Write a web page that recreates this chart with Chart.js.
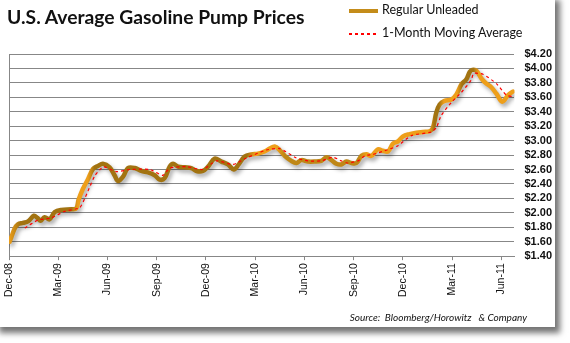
<!DOCTYPE html>
<html>
<head>
<meta charset="utf-8">
<script src="https://cdn.jsdelivr.net/npm/chart.js@4.4.1/dist/chart.umd.min.js"></script>
<style>
  html, body { margin: 0; padding: 0; background: #fff; }
  body { width: 570px; height: 343px; position: relative; overflow: hidden; }
  #panel { position: absolute; left: -6px; top: -6px; width: 561px; height: 333px; background: #fff;
           box-shadow: 5px 6px 6px rgba(0,0,0,0.55); }
  #chart { position: absolute; left: 0; top: 0; }
  .txt { position: absolute; white-space: pre; color: #111; }
  #title { left: 7px; top: 5px; font: bold 19.3px Lato, sans-serif; }
  .leg { left: 382px; font: 12.5px Lato, sans-serif; line-height: 14px; }
  .swatch { position: absolute; left: 349px; width: 29px; }
  #source { right: 43px; top: 311px; font: italic 10px Lato, sans-serif; line-height: 12px; }
</style>
</head>
<body>
<div id="panel"></div>
<canvas id="chart" width="570" height="343"></canvas>
<div class="txt" id="title">U.S. Average Gasoline Pump Prices</div>
<div class="swatch" style="top:9px;height:4px;background:#C48C1A;"></div>
<div class="txt leg" style="top:3px;">Regular Unleaded</div>
<div class="swatch" style="top:33px;height:1.5px;background:repeating-linear-gradient(to right,#ff0000 0 3px,transparent 3px 6px);"></div>
<div class="txt leg" style="top:26px;">1-Month Moving Average</div>
<div class="txt" id="source">Source:  Bloomberg/Horowitz   &amp; Company</div>
<script>
// x values are months since Dec-08
const xTickLabels = ['Dec-08', 'Mar-09', 'Jun-09', 'Sep-09', 'Dec-09', 'Mar-10', 'Jun-10', 'Sep-10', 'Dec-10', 'Mar-11', 'Jun-11'];

const regMonths = [0.04, 0.14, 0.34, 0.54, 0.85, 1.16, 1.52, 1.73, 1.93, 2.17, 2.47, 2.79, 3.19, 3.80, 4.10, 4.24,
  4.50, 4.82, 5.12, 5.42, 5.72, 6.13, 6.43, 6.64, 6.95, 7.25, 7.66, 8.06, 8.47, 8.88, 9.18, 9.48, 9.79, 10.0,
  10.30, 10.71, 11.11, 11.42, 11.82, 12.13, 12.53, 12.94, 13.34, 13.70, 13.96, 14.36, 14.77, 15.17, 15.57, 15.89,
  16.19, 16.49, 16.80, 17.20, 17.51, 17.82, 18.22, 18.62, 19.03, 19.34, 19.65, 19.95, 20.25, 20.56, 20.86, 21.17,
  21.48, 21.78, 22.08, 22.48, 22.78, 23.10, 23.40, 23.70, 24.01, 24.41, 24.83, 25.23, 25.63, 25.83, 26.04, 26.24,
  26.54, 26.96, 27.26, 27.57, 27.87, 28.07, 28.23, 28.48, 28.79, 29.09, 29.39, 29.70, 30.06, 30.41, 30.71];
const regPrices = [1.60, 1.66, 1.78, 1.84, 1.86, 1.88, 1.96, 1.93, 1.89, 1.94, 1.91, 2.01, 2.04, 2.05, 2.06, 2.18,
  2.33, 2.47, 2.61, 2.65, 2.68, 2.63, 2.52, 2.44, 2.50, 2.62, 2.62, 2.58, 2.56, 2.52, 2.46, 2.48, 2.64, 2.68,
  2.64, 2.63, 2.62, 2.58, 2.58, 2.64, 2.75, 2.71, 2.67, 2.60, 2.66, 2.78, 2.81, 2.82, 2.85, 2.89,
  2.92, 2.87, 2.79, 2.72, 2.69, 2.73, 2.71, 2.71, 2.72, 2.77, 2.73, 2.68, 2.67, 2.71, 2.69, 2.69,
  2.79, 2.81, 2.79, 2.88, 2.86, 2.85, 2.96, 2.99, 3.06, 3.09, 3.11, 3.12, 3.13, 3.18, 3.39, 3.50,
  3.55, 3.57, 3.64, 3.78, 3.85, 3.95, 3.98, 3.97, 3.86, 3.79, 3.74, 3.65, 3.54, 3.63, 3.68];

const maMonths = [0.96, 1.77, 2.58, 3.39, 4.30, 4.62, 5.22, 5.63, 5.77, 6.55, 7.35, 8.57, 9.38, 9.79, 10.81, 11.80,
  12.64, 13.65, 14.47, 15.69, 16.49, 17.51, 18.22, 19.03, 19.74, 20.25, 20.65, 21.27, 21.68, 22.18, 22.90, 23.70,
  24.52, 25.74, 26.04, 26.34, 26.96, 27.57, 28.17, 28.31, 28.88, 29.70, 30.30, 30.71];
const maPrices = [1.79, 1.90, 1.93, 2.02, 2.07, 2.20, 2.51, 2.62, 2.64, 2.57, 2.60, 2.60, 2.52, 2.62, 2.64, 2.60,
  2.72, 2.67, 2.76, 2.87, 2.89, 2.76, 2.72, 2.72, 2.77, 2.72, 2.69, 2.72, 2.79, 2.81, 2.86, 2.93,
  3.07, 3.12, 3.18, 3.35, 3.53, 3.67, 3.84, 3.93, 3.92, 3.79, 3.63, 3.61];

const ORANGE = '#EE9F1A', BROWN = '#A27311', MID = '#BF8716';
// colour bands of the thick line along the x axis (months)
const lineBands = [[0, ORANGE], [0.7, BROWN], [3.8, BROWN], [4.2, ORANGE], [4.8, ORANGE], [5.2, BROWN],
  [14.5, BROWN], [15.0, ORANGE], [16.3, ORANGE], [16.8, MID], [21.3, MID], [21.8, ORANGE], [25.6, ORANGE],
  [25.9, BROWN], [26.2, BROWN], [26.5, ORANGE], [27.3, ORANGE], [27.6, BROWN], [28.3, BROWN], [28.6, ORANGE], [30.8, ORANGE]];

const GRID = '#878787';
Chart.defaults.font.family = "'Liberation Sans', Arial, sans-serif";
Chart.defaults.color = '#111';

const lineShadow = {
  id: 'lineShadow',
  beforeDatasetDraw(chart, args) {
    if (args.meta.label !== 'Regular Unleaded') return;
    const c = chart.ctx;
    c.save();
    c.shadowColor = 'rgba(0,0,0,0.35)';
    c.shadowBlur = 4;
    c.shadowOffsetX = 2;
    c.shadowOffsetY = 3;
  },
  afterDatasetDraw(chart, args) {
    if (args.meta.label !== 'Regular Unleaded') return;
    chart.ctx.restore();
  }
};

function bandGradient(context) {
  const chart = context.chart;
  const { ctx, chartArea, scales } = chart;
  if (!chartArea) return ORANGE;
  const x0 = chartArea.left, x1 = chartArea.right;
  const g = ctx.createLinearGradient(x0, 0, x1, 0);
  lineBands.forEach(([m, col]) => {
    let f = (scales.x.getPixelForValue(m) - x0) / (x1 - x0);
    g.addColorStop(Math.min(1, Math.max(0, f)), col);
  });
  return g;
}

new Chart(document.getElementById('chart'), {
  type: 'line',
  data: {
    datasets: [
      {
        label: '1-Month Moving Average',
        data: maMonths.map((m, i) => ({ x: m, y: maPrices[i] })),
        borderColor: '#ff0000',
        borderWidth: 1.2,
        borderDash: [3, 3],
        pointRadius: 0,
        tension: 0.2,
        order: 0
      },
      {
        label: 'Regular Unleaded',
        data: regMonths.map((m, i) => ({ x: m, y: regPrices[i] })),
        borderColor: bandGradient,
        borderWidth: 4.5,
        pointRadius: 0,
        tension: 0.35,
        borderCapStyle: 'round',
        borderJoinStyle: 'round',
        order: 1
      }
    ]
  },
  options: {
    responsive: false,
    animation: false,
    layout: { padding: { left: 9, right: 8, top: 54, bottom: 43 } },
    plugins: { legend: { display: false }, tooltip: { enabled: false } },
    scales: {
      x: {
        type: 'linear',
        min: 0,
        max: 30.8,
        afterBuildTicks: axis => { axis.ticks = axis.ticks.filter(t => Math.abs(t.value % 3) < 1e-6); },
        ticks: {
          stepSize: 3,
          minRotation: 90,
          maxRotation: 90,
          autoSkip: false,
          padding: 3,
          font: { size: 10.5 },
          callback: v => xTickLabels[Math.round(v / 3)]
        },
        grid: {
          color: c => (c.tick && c.tick.value === 0) ? GRID : 'transparent',
          tickColor: GRID,
          tickLength: 4
        },
        border: { display: true, color: GRID }
      },
      y: {
        position: 'right',
        min: 1.4,
        max: 4.2,
        ticks: {
          stepSize: 0.2,
          autoSkip: false,
          padding: 10,
          font: { size: 11, weight: 'bold' },
          callback: v => '$' + v.toFixed(2)
        },
        grid: { color: GRID, drawTicks: false },
        border: { display: false }
      }
    }
  },
  plugins: [lineShadow]
});
</script>
</body>
</html>
